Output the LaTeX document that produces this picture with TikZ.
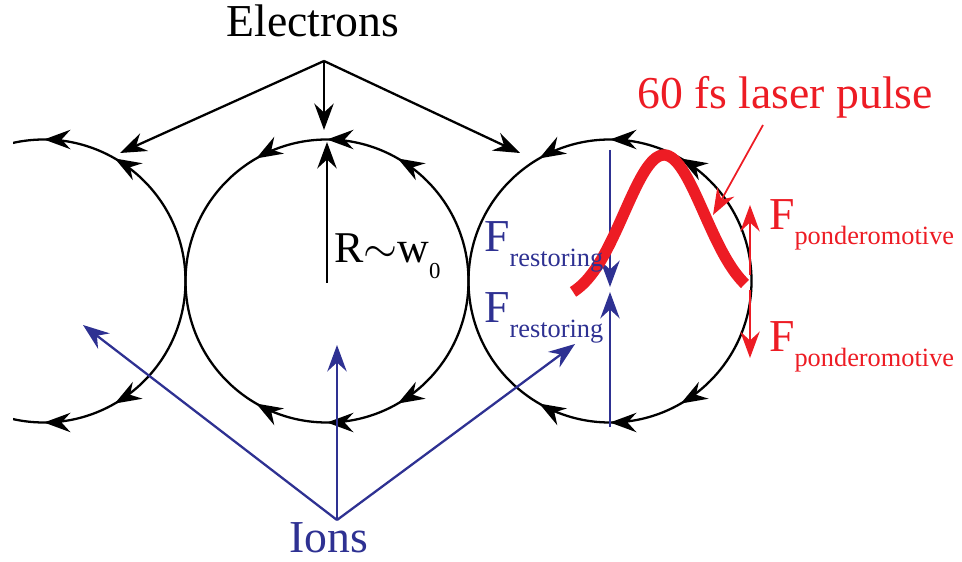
\documentclass[tikz,border=0pt]{standalone}
\usepackage{fontspec}
\setmainfont{Liberation Serif}
\usepackage{tikz}
\usetikzlibrary{arrows.meta, decorations.markings}
\definecolor{ionblue}{RGB}{46,49,146}
\definecolor{pulsered}{RGB}{237,28,36}
\tikzset{ehead/.tip={Stealth[length=15pt, width=11pt, inset=5pt]}}
\newcommand{\lowsub}[1]{\raisebox{-8.5pt}{\fontsize{15}{15}\selectfont #1}}

\begin{document}
\begin{tikzpicture}[x=0.02cm, y=0.02cm, line width=1.3pt,
  arr/.style={-ehead},
  flow/.style={postaction={decorate}, decoration={markings,
    mark=at position 0.3333 with {\arrow{ehead}},
    mark=at position 0.5 with {\arrow{ehead}},
    mark=at position 0.6667 with {\arrow{ehead}}}},
  bigtxt/.style={inner sep=0pt, font=\fontsize{26}{26}\selectfont}]
\useasboundingbox (0,0) rectangle (962,561);

% electron orbits round the three bubbles
\begin{scope}
\clip (13,0) rectangle (962,561);
\foreach \cx in {44,327,610} {
  \draw[flow] (\cx+141.5,280) arc[start angle=0, end angle=180, radius=141.5];
  \draw[flow] (\cx+141.5,280) arc[start angle=0, end angle=-180, radius=141.5];
}
\end{scope}

% electrons
\node[bigtxt, anchor=base] (elec) at (313,524) {Electrons};
\coordinate (ej) at (324,500);
\coordinate (e1) at (120,408);
\coordinate (e2) at (324,431);
\coordinate (e3) at (520,408);
\foreach \t in {e1,e2,e3} \draw[arr] (ej) -- (\t);

% bubble radius
\coordinate (rbase) at (327,278);
\coordinate (rtop) at (327,419);
\draw[arr] (rbase) -- (rtop);
\node[inner sep=0pt, anchor=base west, font=\fontsize{25}{25}\selectfont] (rlab) at (333,298)
  {R$\sim$w\raisebox{-9pt}{\fontsize{13}{13}\selectfont 0}};

% ions
\node[bigtxt, anchor=base, text=ionblue] (ions) at (329,9) {Ions};
\coordinate (ij) at (337,41);
\coordinate (i1) at (83,236);
\coordinate (i2) at (337,216);
\coordinate (i3) at (575,217);
\foreach \t in {i1,i2,i3} \draw[arr, ionblue] (ij) -- (\t);

% restoring forces
\coordinate (rt1) at (610,411);
\coordinate (rt2) at (610,274);
\coordinate (rb1) at (610,134);
\coordinate (rb2) at (610,269);
\draw[arr, ionblue] (rt1) -- (rt2);
\draw[arr, ionblue] (rb1) -- (rb2);

% laser pulse
\draw[pulsered, line width=6.5pt] plot[domain=573:745, samples=80, smooth]
  (\x, {258+148*exp(-0.5*((\x-664)/40)^2)});
\node[bigtxt, anchor=base, text=pulsered] (plab) at (785,452) {60 fs laser pulse};
\coordinate (pa) at (763,436);
\coordinate (pb) at (713,346);
\draw[arr, pulsered, line width=1pt] (pa) -- (pb);

% ponderomotive forces
\coordinate (pu1) at (750,286);
\coordinate (pu2) at (750,356);
\coordinate (pd1) at (750,271);
\coordinate (pd2) at (750,203);
\draw[arr, pulsered] (pu1) -- (pu2);
\draw[arr, pulsered] (pd1) -- (pd2);

\node[bigtxt, anchor=base west, text=ionblue] (fr1) at (483,309) {F\lowsub{restoring}};
\node[bigtxt, anchor=base west, text=ionblue] (fr2) at (483,238) {F\lowsub{restoring}};
\node[bigtxt, anchor=base west, text=pulsered] (fp1) at (768,331) {F\lowsub{ponderomotive}};
\node[bigtxt, anchor=base west, text=pulsered] (fp2) at (768,209) {F\lowsub{ponderomotive}};
\end{tikzpicture}
\end{document}
